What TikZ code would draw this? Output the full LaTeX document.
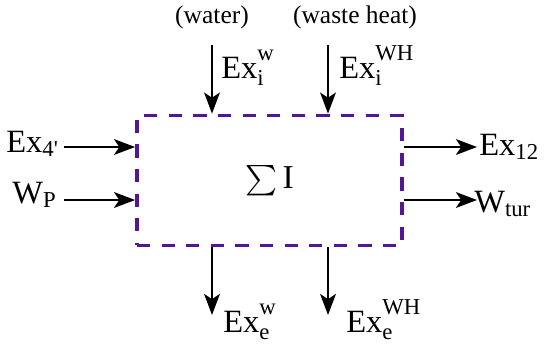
\documentclass[tikz,border=0pt]{standalone}
\usepackage{amsmath}
\usepackage{fontspec}
\setmainfont{Liberation Serif}
\usepackage{tikz}
\usetikzlibrary{arrows.meta,positioning}
\definecolor{sysline}{RGB}{84,22,150}
\newcommand{\hsup}[1]{\text{\raisebox{2.5pt}{#1}}}

\begin{document}
\begin{tikzpicture}[x=0.02cm,y=-0.02cm,
   flow/.style={-{Stealth[length=12pt,width=9pt,inset=3pt]},line width=1.1pt},
   lbl/.style={font=\fontsize{18.5}{22}\selectfont,inner sep=0pt,anchor=base west},
   note/.style={font=\fontsize{14.5}{17}\selectfont,inner sep=0pt}]
   \useasboundingbox (0,0) rectangle (550,348);
   % control volume
   \node[draw=sysline,dash pattern=on 7.5pt off 6.5pt,line width=2.2pt,
         minimum width=5.3cm,minimum height=2.6cm,inner sep=0pt,
         font=\fontsize{19}{22}\selectfont] (sys) at (269.5,180.5) {$\sum\text{I}$};
   % inlets from above
   \coordinate (wTop) at (212,45);
   \coordinate (hTop) at (328,45);
   \draw[flow] (wTop) -- (wTop |- sys.north);
   \draw[flow] (hTop) -- (hTop |- sys.north);
   \node[note] (water) at (212,17) {(water)};
   \node[note] (waste) at (355,17) {(waste heat)};
   \node[lbl] (exiw) at (221,78) {$\text{Ex}_{\text{i}}^{\hsup{w}}$};
   \node[lbl] (exih) at (339,78) {$\text{Ex}_{\text{i}}^{\hsup{WH}}$};
   % inlets from the left
   \coordinate (exFour) at (64,147);
   \coordinate (wpIn) at (64,200);
   \draw[flow] (exFour) -- (exFour -| sys.west);
   \draw[flow] (wpIn) -- (wpIn -| sys.west);
   \node[lbl] (exfour) at (6,152) {$\text{Ex}_{\text{4\textquotesingle}}$};
   \node[lbl] (wp) at (12,203) {$\text{W}_{\text{P}}$};
   % outlets to the right
   \coordinate (exTw) at (477,147);
   \coordinate (wtOut) at (477,200);
   \draw[flow] (exTw -| sys.east) -- (exTw);
   \draw[flow] (wtOut -| sys.east) -- (wtOut);
   \node[lbl] (extw) at (479,155) {$\text{Ex}_{\text{12}}$};
   \node[lbl] (wtur) at (474,212) {$\text{W}_{\text{tur}}$};
   % outlets below
   \coordinate (weBot) at (212,315);
   \coordinate (heBot) at (328,315);
   \draw[flow] (weBot |- sys.south) -- (weBot);
   \draw[flow] (heBot |- sys.south) -- (heBot);
   \node[lbl] (exew) at (223,332) {$\text{Ex}_{\text{e}}^{\hsup{w}}$};
   \node[lbl] (exeh) at (346,332) {$\text{Ex}_{\text{e}}^{\hsup{WH}}$};
\end{tikzpicture}
\end{document}
